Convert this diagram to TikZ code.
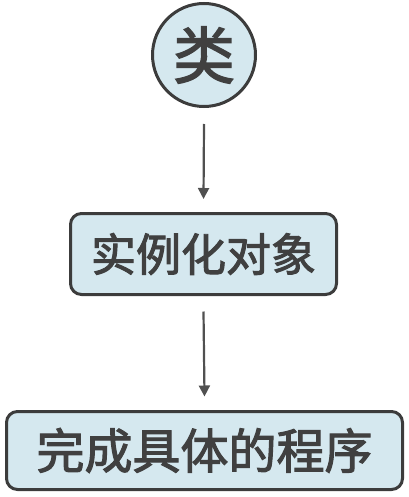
\documentclass[tikz,border=0pt]{standalone}
\usepackage{fontspec}
\newfontfamily\cjk[FakeBold=2.2]{Noto Sans CJK SC}
\usetikzlibrary{arrows.meta}
\definecolor{boxfill}{HTML}{D5E8EF}
\definecolor{edge}{HTML}{3C3C3C}
\definecolor{txt}{HTML}{404040}
\tikzset{
  stepbox/.style={draw=edge, line width=3pt, fill=boxfill, rounded corners=11pt, text=txt},
  conn/.style={draw=edge!90, line width=2.2pt, -{Triangle[length=11pt,width=11pt]}}
}
\begin{document}
\begin{tikzpicture}[x=1pt,y=-1pt]
\useasboundingbox (0,0) rectangle (408,497);
\node[draw=edge, line width=3pt, fill=boxfill, circle, minimum size=103pt, inner sep=0pt, text=txt, font={\cjk\fontsize{62}{62}\selectfont}] (c) at (204,55) {类};
\node[stepbox, minimum width=266pt, minimum height=81pt, inner sep=0pt, font={\cjk\fontsize{45}{45}\selectfont}] (b1) at (203.5,254) {实例化对象};
\node[stepbox, minimum width=396pt, minimum height=78pt, inner sep=0pt, font={\cjk\fontsize{48}{48}\selectfont}] (b2) at (204.5,450.5) {完成具体的程序};
\draw[conn] ([yshift=-16pt]c.south) -- ([yshift=13pt]b1.north);
\draw[conn] ([yshift=-15.5pt]b1.south) -- ([yshift=13.5pt]b2.north);
\end{tikzpicture}
\end{document}
